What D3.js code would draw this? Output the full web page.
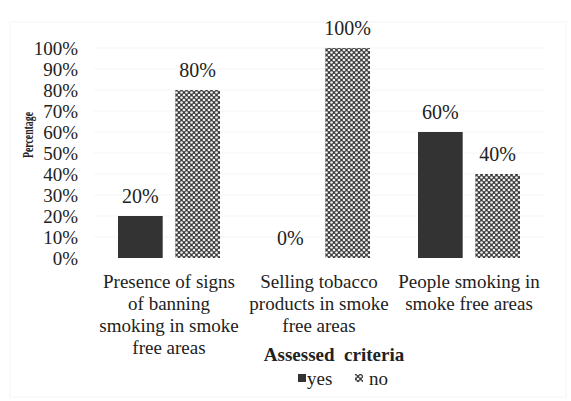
<!DOCTYPE html>
<html>
<head>
<meta charset="utf-8">
<script src="https://cdn.jsdelivr.net/npm/d3@7"></script>
<style>
  body { margin: 0; background: #fff; }
</style>
</head>
<body>
<svg id="chart" width="571" height="401"></svg>
<script>
// chart data
const categories = [
  ["Presence of signs", "of banning", "smoking in smoke", "free areas"],
  ["Selling tobacco", "products in smoke", "free areas"],
  ["People smoking in", "smoke free areas"]
];
const yesValues = [20, 0, 60];
const noValues = [80, 100, 40];
const series = ["yes", "no"];
const yTicks = [0, 10, 20, 30, 40, 50, 60, 70, 80, 90, 100];

const serif = "Liberation Serif";
const svg = d3.select("#chart");

//plot box
const plotLeft = 94, plotRight = 544, plotTop = 48, plotBottom = 258;

// hatch pattern for the "no" series
const defs = svg.append("defs");
const pat = defs.append("pattern")
  .attr("id", "hatch")
  .attr("patternUnits", "userSpaceOnUse")
  .attr("width", 5).attr("height", 5);
pat.append("rect").attr("width", 5).attr("height", 5).attr("fill", "#3c3c3c");
[[0, 0], [5, 0], [0, 5], [5, 5], [2.5, 2.5]].forEach(p => {
  pat.append("circle").attr("cx", p[0]).attr("cy", p[1]).attr("r", 1.35).attr("fill", "#eee");
});

const x0 = d3.scaleBand().domain(d3.range(categories.length)).range([plotLeft, plotRight]);
const x1 = d3.scaleBand().domain(series).range([24, x0.bandwidth() - 24]).paddingInner(0.22);
const y = d3.scaleLinear().domain([0, 100]).range([plotBottom, plotTop]);

// faint frame like the scanned figure
svg.append("rect").attr("x", 10).attr("y", 22).attr("width", 556).attr("height", 375)
  .attr("fill", "none").attr("stroke", "#f4f4f4");

// faint gridlines
svg.append("g").selectAll("line").data(yTicks.slice(1)).join("line")
  .attr("x1", plotLeft).attr("x2", plotRight)
  .attr("y1", d => y(d)).attr("y2", d => y(d))
  .attr("stroke", "#f5f5f5");

// y axis (labels only)
const yAxis = svg.append("g")
  .attr("transform", `translate(${plotLeft},0)`)
  .call(d3.axisLeft(y).tickValues(yTicks).tickFormat(d => d + "%").tickSize(0).tickPadding(16));
yAxis.select(".domain").remove();
yAxis.selectAll("text")
  .style("font-family", serif)
  .attr("font-size", 19).attr("fill", "#222");

svg.append("text")
  .attr("transform", "translate(33,135) rotate(-90)")
  .attr("text-anchor", "middle")
  .style("font-family", serif)
  .attr("font-size", 14).attr("font-weight", "bold").attr("fill", "#222")
  .attr("textLength", 46).attr("lengthAdjust", "spacingAndGlyphs")
  .text("Percentage");

// bars
const rows = categories.map((c, i) => ({ i, yes: yesValues[i], no: noValues[i] }));
const groups = svg.append("g").selectAll("g").data(rows).join("g")
  .attr("transform", d => `translate(${x0(d.i)},0)`);

groups.selectAll("rect").data(d => series.map(s => ({ key: s, value: d[s] }))).join("rect")
  .attr("x", d => x1(d.key))
  .attr("width", x1.bandwidth())
  .attr("y", d => y(d.value))
  .attr("height", d => y(0) - y(d.value))
  .attr("fill", d => d.key == "yes" ? "#333" : "url(#hatch)");

groups.selectAll("text.val").data(d => series.map(s => ({ key: s, value: d[s] }))).join("text")
  .attr("class", "val")
  .attr("x", d => x1(d.key) + x1.bandwidth() / 2)
  .attr("y", d => y(d.value) - 13)
  .attr("text-anchor", "middle")
  .style("font-family", serif)
  .attr("font-size", 20).attr("fill", "#222")
  .text(d => d.value + "%");

// category labels
const catLabels = svg.append("g").selectAll("text").data(categories).join("text")
  .attr("x", (d, i) => x0(i) + x0.bandwidth() / 2)
  .attr("y", 288)
  .attr("text-anchor", "middle")
  .style("font-family", serif)
  .attr("font-size", 19).attr("fill", "#222");
catLabels.selectAll("tspan").data(d => d).join("tspan")
  .attr("x", function () { return d3.select(this.parentNode).attr("x"); })
  .attr("dy", (d, i) => i == 0 ? 0 : 22)
  .text(d => d);

// axis title + legend
svg.append("text")
  .attr("x", 334).attr("y", 361)
  .attr("text-anchor", "middle")
  .style("font-family", serif)
  .style("white-space", "pre")
  .attr("font-size", 19).attr("font-weight", "bold").attr("fill", "#222")
  .text("Assessed  criteria");

const legend = svg.append("g").attr("transform", "translate(298,374)");
legend.append("rect").attr("x", 0).attr("y", 0).attr("width", 8).attr("height", 8).attr("fill", "#333");
legend.append("text").attr("x", 9).attr("y", 11).style("font-family", serif)
  .attr("font-size", 19).attr("fill", "#222").text("yes");
legend.append("rect").attr("x", 57).attr("y", 0).attr("width", 8).attr("height", 8).attr("fill", "url(#hatch)");
legend.append("text").attr("x", 71).attr("y", 11).style("font-family", serif)
  .attr("font-size", 19).attr("fill", "#222").text("no");
</script>
</body>
</html>
